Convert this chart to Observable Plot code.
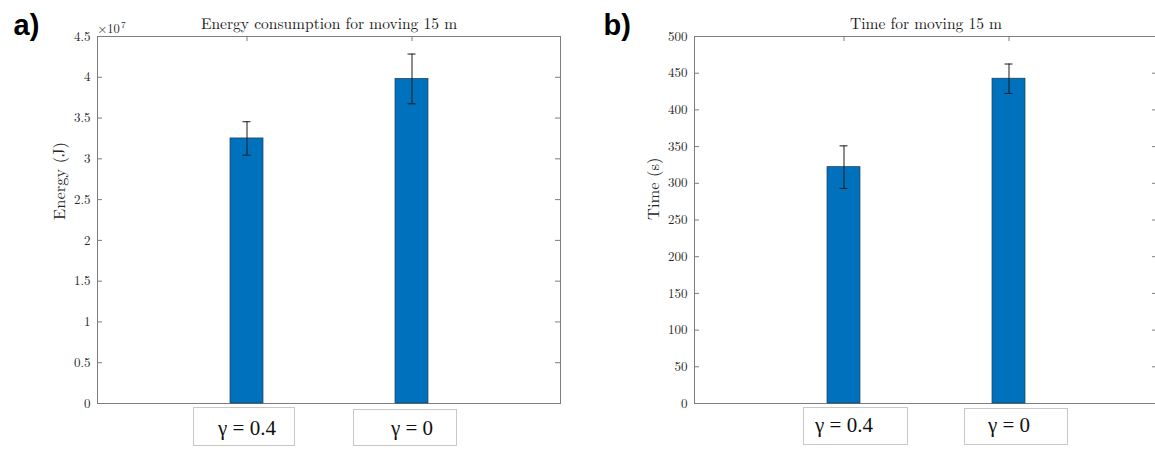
<!DOCTYPE html>
<html><head><meta charset="utf-8">
<script src="https://cdn.jsdelivr.net/npm/d3@7"></script>
<script src="https://cdn.jsdelivr.net/npm/@observablehq/plot@0.6"></script>
<style>
html,body{margin:0;padding:0;background:#fff;overflow:hidden;width:1155px;height:450px}
#root{position:relative;width:1155px;height:450px;overflow:hidden}
.panel{position:absolute;top:0}
.panel svg{max-width:none !important}
.box{position:absolute;border:1px solid #c8c8c8;box-sizing:border-box;pointer-events:none}
</style></head><body><div id="root"></div>
<script>
// ---- data ----
const categories = ["γ = 0.4", "γ = 0"];
const energyMean = [3.25, 3.98];   // ×10^7 J
const energyErr  = [0.205, 0.305];
const timeMean   = [322, 442.5];   // s
const timeErr    = [29, 20];
const energyTicks = [0, 0.5, 1, 1.5, 2, 2.5, 3, 3.5, 4, 4.5];
const timeTicks   = [0, 50, 100, 150, 200, 250, 300, 350, 400, 450, 500];

const serif = "Latin Modern Roman, Liberation Serif, serif";
const axisColor = "#7d7d7d";
const root = document.getElementById("root");

function panel(cfg) {
  const H = 450, mt = 36, mb = 47;
  const innerW = cfg.width - cfg.marginLeft - cfg.marginRight;
  const innerH = H - mt - mb;
  const data = categories.map((c, i) => ({c, v: cfg.means[i], lo: cfg.means[i] - cfg.errs[i], hi: cfg.means[i] + cfg.errs[i]}));
  const marks = [
    Plot.frame({stroke: axisColor, strokeWidth: 1}),
    Plot.tickY(cfg.ticks, {y: d => d, insetRight: innerW - 5, stroke: axisColor}),
    Plot.tickY(cfg.ticks, {y: d => d, insetLeft: innerW - 5, stroke: axisColor}),
    Plot.tickX(categories, {x: d => d, insetBottom: innerH - 5, stroke: axisColor}),
    Plot.text(cfg.ticks, {y: d => d, text: d => String(d), frameAnchor: "left", textAnchor: "end", dx: -7, fontSize: 13, fill: "#262626"}),
    Plot.barY(data, {x: "c", y: "v", fill: "#0072BD", stroke: "#1d3a55", strokeWidth: 0.7}),
    Plot.ruleX(data, {x: "c", y1: "lo", y2: "hi", stroke: "#1a1a1a", strokeWidth: 1}),
    Plot.tickY(data, {x: "c", y: "hi", insetLeft: 12.5, insetRight: 12.5, stroke: "#1a1a1a", strokeWidth: 1}),
    Plot.tickY(data, {x: "c", y: "lo", insetLeft: 12.5, insetRight: 12.5, stroke: "#1a1a1a", strokeWidth: 1}),
    Plot.text([cfg.title], {frameAnchor: "top", dy: -8, lineAnchor: "bottom", fontSize: 15.5, fill: "#1a1a1a"}),
    Plot.text([cfg.ylabel], {frameAnchor: "left", rotate: -90, dx: cfg.ylabelDx, fontSize: 16.5, fill: "#262626"}),
    Plot.text(categories, {x: d => d, frameAnchor: "bottom", dy: cfg.labelDy, lineAnchor: "bottom", fontFamily: "Liberation Serif", fontSize: 21, fill: "#111"}),
    Plot.text([cfg.tag], {frameAnchor: "top-left", dx: cfg.tagDx, dy: -2, lineAnchor: "bottom", textAnchor: "start", fontFamily: "Liberation Sans", fontWeight: "bold", fontSize: 29, fill: "#000"})
  ];
  if (cfg.exponent) {
    marks.push(Plot.text(["×10"], {frameAnchor: "top-left", dy: -4, lineAnchor: "bottom", textAnchor: "start", fontSize: 12.5, fill: "#262626"}));
    marks.push(Plot.text([cfg.exponent], {frameAnchor: "top-left", dx: 23.5, dy: -9, lineAnchor: "bottom", textAnchor: "start", fontSize: 9, fill: "#262626"}));
  }
  const plot = Plot.plot({
    width: cfg.width, height: H,
    marginLeft: cfg.marginLeft, marginRight: cfg.marginRight, marginTop: mt, marginBottom: mb,
    style: {fontFamily: serif, background: "transparent", overflow: "visible", maxWidth: "none"},
    x: {type: "band", domain: categories, padding: 0.8, axis: null},
    y: {domain: cfg.domain, axis: null},
    marks
  });
  const wrap = document.createElement("div");
  wrap.className = "panel";
  wrap.style.left = cfg.left + "px";
  wrap.style.width = cfg.width + "px";
  wrap.appendChild(plot);
  root.appendChild(wrap);
  // label boxes, placed with the plot's own x scale
  const xs = plot.scale("x");
  categories.forEach((c, i) => {
    const b = cfg.boxes[i];
    const cx = cfg.left + xs.apply(c) + xs.bandwidth / 2;
    const d = document.createElement("div");
    d.className = "box";
    d.style.left = (cx + b[0]) + "px";
    d.style.width = (b[1] - b[0]) + "px";
    d.style.top = b[2] + "px";
    d.style.height = (b[3] - b[2]) + "px";
    root.appendChild(d);
  });
}

panel({
  left: 0, width: 575, marginLeft: 97, marginRight: 15,
  tag: "a)", tagDx: -84,
  title: "Energy consumption for moving 15 m",
  ylabel: "Energy (J)", ylabelDx: -38,
  domain: [0, 4.5], ticks: energyTicks, means: energyMean, errs: energyErr,
  exponent: "7", labelDy: 31,
  boxes: [[-53.5, 48.5, 407, 446], [-59, 45, 409, 446]]
});
panel({
  left: 590, width: 575, marginLeft: 104, marginRight: 8,
  tag: "b)", tagDx: -91,
  title: "Time for moving 15 m",
  ylabel: "Time (s)", ylabelDx: -41,
  domain: [0, 500], ticks: timeTicks, means: timeMean, errs: timeErr,
  exponent: null, labelDy: 28,
  boxes: [[-40.5, 64.5, 407, 445], [-45, 59, 408, 445]]
});
</script></body></html>
